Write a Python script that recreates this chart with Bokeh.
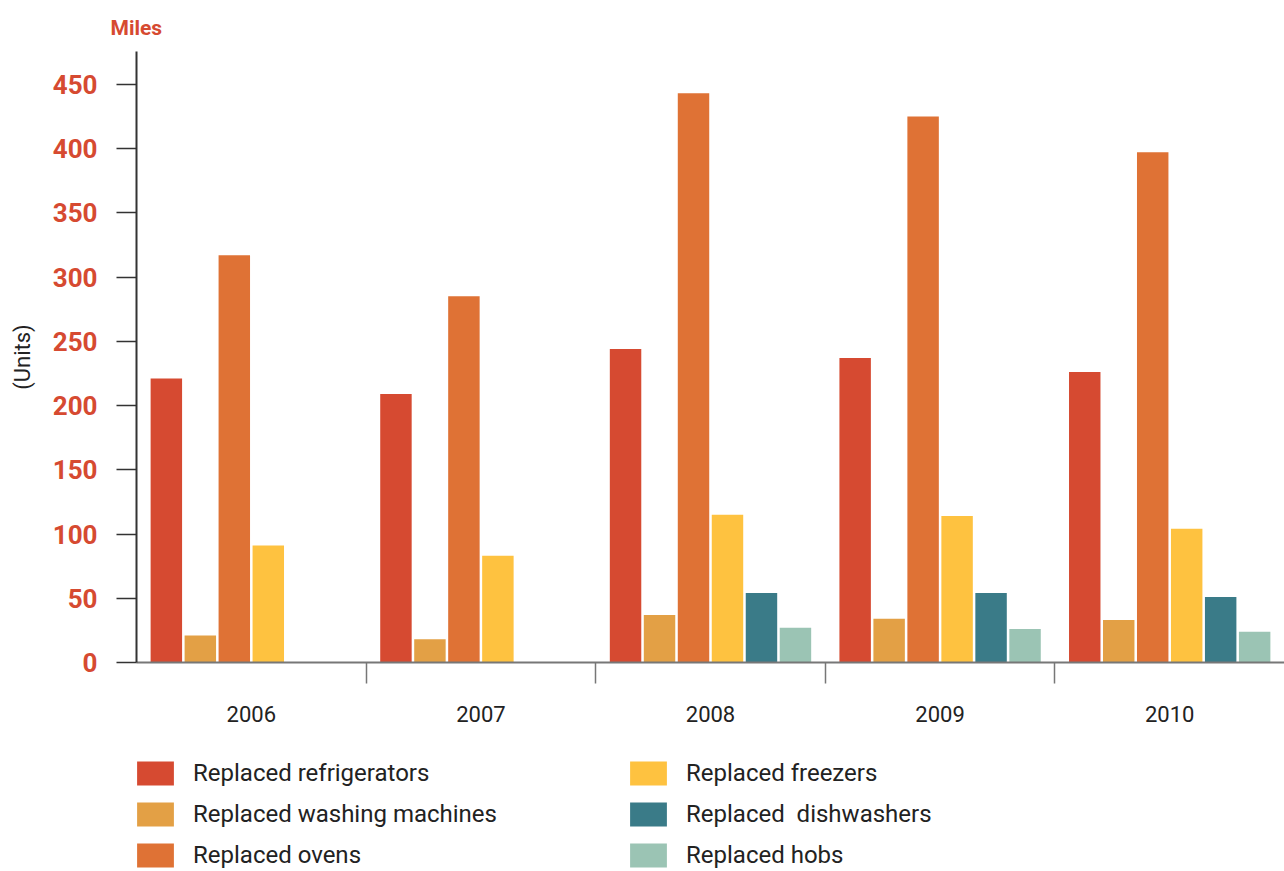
import numpy as np
from bokeh.plotting import figure
from bokeh.layouts import column
from bokeh.models import (ColumnDataSource, Range1d, FixedTicker, Legend, LegendItem)
from bokeh.embed import file_html
from bokeh.resources import INLINE

years = ["2006", "2007", "2008", "2009", "2010"]
series = ["Replaced refrigerators", "Replaced washing machines", "Replaced ovens",
          "Replaced freezers", "Replaced  dishwashers", "Replaced hobs"]
colors = ["#D64A31", "#E3A045", "#DF7235", "#FEC240", "#3A7B88", "#9BC4B4"]

refrigerators = [221, 209, 244, 237, 226]
washing_machines = [21, 18, 37, 34, 33]
ovens = [317, 285, 443, 425, 397]
freezers = [91, 83, 115, 114, 104]
dishwashers = [None, None, 54, 54, 51]
hobs = [None, None, 27, 26, 24]
y_ticks = [0, 50, 100, 150, 200, 250, 300, 350, 400, 450]

values = [refrigerators, washing_machines, ovens, freezers, dishwashers, hobs]

FONT = "Roboto"
RED = "#D64A31"

p = figure(frame_width=1148, frame_height=611, output_backend="svg", toolbar_location=None,
           x_range=Range1d(0, len(years)), y_range=Range1d(0, 475.5),
           min_border_left=136, min_border_right=0, min_border_top=51, min_border_bottom=78,
           title="Miles")
p.outline_line_color = None
p.grid.visible = False

p.title.text_font = FONT
p.title.text_font_style = "bold"
p.title.text_font_size = "21px"
p.title.text_color = RED
p.title.align = "left"
p.title.offset = -26
p.title.standoff = 24

centers = np.arange(len(years)) + 0.5
step = 0.148
bw = 0.137
for j, (name, vals, col) in enumerate(zip(series, values, colors)):
    v = np.array([np.nan if a is None else a for a in vals], dtype=float)
    src = ColumnDataSource(dict(x=centers + (j - 2.5) * step, top=v))
    p.vbar(x="x", top="top", width=bw, bottom=0, source=src,
           fill_color=col, line_color=None)

# y axis
ya = p.yaxis[0]
ya.ticker = FixedTicker(ticks=y_ticks)
ya.minor_tick_line_color = None
ya.major_tick_in = 0
ya.major_tick_out = 20
ya.major_tick_line_color = "#333333"
ya.major_tick_line_width = 1.5
ya.axis_line_color = "#333333"
ya.axis_line_width = 2
ya.major_label_text_font = FONT
ya.major_label_text_font_style = "bold"
ya.major_label_text_font_size = "26px"
ya.major_label_text_color = RED
ya.major_label_standoff = 19
ya.axis_label = "(Units)"
ya.axis_label_text_font = FONT
ya.axis_label_text_font_style = "normal"
ya.axis_label_text_font_size = "22px"
ya.axis_label_text_color = "#222222"
ya.axis_label_standoff = 15

# x axis
xa = p.xaxis[0]
xa.ticker = FixedTicker(ticks=list(centers), minor_ticks=list(np.arange(1, len(years))))
xa.major_label_overrides = {float(c): y for c, y in zip(centers, years)}
xa.major_tick_in = 0
xa.major_tick_out = 0
xa.minor_tick_in = 0
xa.minor_tick_out = 21
xa.minor_tick_line_color = "#777777"
xa.minor_tick_line_width = 1.5
xa.axis_line_color = "#777777"
xa.axis_line_width = 2
xa.major_label_text_font = FONT
xa.major_label_text_font_size = "22px"
xa.major_label_text_color = "#222222"
xa.major_label_standoff = 22

# legend in its own strip below the chart (its frame aligns with the chart frame)
lf = figure(width=1284, height=131, output_backend="svg", toolbar_location=None,
            x_axis_type=None, y_axis_type=None, x_range=Range1d(0, 1), y_range=Range1d(0, 1),
            min_border_left=0, min_border_right=0, min_border_top=0, min_border_bottom=0)
lf.outline_line_color = None
lf.grid.visible = False
items = []
for name, col in zip(series, colors):
    r = lf.vbar(x=[0.5], top=[np.nan], width=0.1, fill_color=col, line_color=None)
    items.append(LegendItem(label=name, renderers=[r]))

legend = Legend(items=items, ncols=2, location=(-4, 1),
                glyph_width=46, glyph_height=30, label_standoff=15,
                label_width=421, spacing=11, padding=0, margin=0,
                label_text_font=FONT, label_text_font_size="24px",
                label_text_color="#222222", border_line_color=None,
                background_fill_alpha=0)
lf.add_layout(legend, "center")

open("out.html", "w").write(file_html(column(p, lf), INLINE))
